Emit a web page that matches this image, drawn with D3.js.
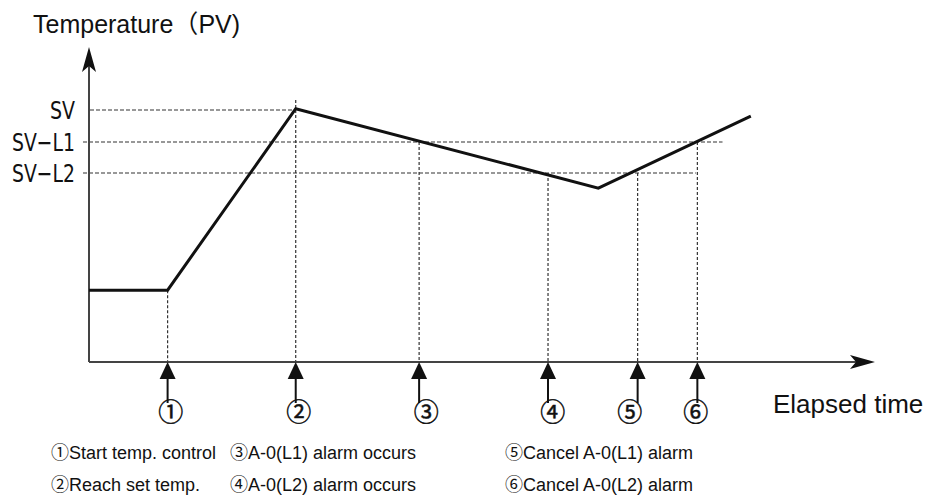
<!DOCTYPE html>
<html lang="en">
<head>
<meta charset="UTF-8" />
<title>Alarm timing chart</title>
<script src="https://d3js.org/d3.v7.min.js"></script>
<style>
  html, body { margin: 0; padding: 0; background: #fff; }
  svg { display: block; }
  .lbl { font-family: "Liberation Sans", Arial, sans-serif; fill: #111; }
  .lvl { font-family: "DejaVu Sans Condensed", "Liberation Sans Narrow", sans-serif; fill: #111; }
  .circ { font-family: "Noto Sans CJK JP", sans-serif; fill: #111; }
</style>
</head>
<body>
<svg width="928" height="497"></svg>
<script>
// threshold levels (temperature units, SV = 100)
const levelNames = ["SV", "SV\u2212L1", "SV\u2212L2"];
const levelValues = [100, 87.3, 75];
// dashed guide ends (time) for each level
const levelEnds = [26.3, 80.6, 77.2];

// PV trace
const pvTime = [0, 10, 26.3, 64.8, 84.2];
const pvTemp = [28.5, 28.5, 100.5, 69, 97.6];

// events
const eventMarks = ["\u2460", "\u2461", "\u2462", "\u2463", "\u2464", "\u2465"];
const eventTime = [10, 26.3, 42, 58.4, 69.8, 77.4];
const eventTemp = [28.5, 104, 87.3, 75, 75, 87.3];
const eventLabelOffset = [0.4, 0.4, 0.9, 0.6, -1, -0.2];

const legendMarks = [["\u2460", "\u2462", "\u2464"], ["\u2461", "\u2463", "\u2465"]];
const legendText = [
  ["Start temp. control", "A-0(L1) alarm occurs", "Cancel A-0(L1) alarm"],
  ["Reach set temp.", "A-0(L2) alarm occurs", "Cancel A-0(L2) alarm"]
];

const svg = d3.select("svg");
const x = d3.scaleLinear().domain([0, 100]).range([89, 875]);
const y = d3.scaleLinear().domain([0, 130]).range([362, 34.4]);

const ink = "#111";
const axisInk = "#444";

// dashed level lines
svg.append("g").selectAll("line")
  .data(levelValues)
  .join("line")
  .attr("x1", (d, i) => i === 0 ? x(0) + 1 : x(0) - 6)
  .attr("x2", (d, i) => x(levelEnds[i]))
  .attr("y1", d => y(d)).attr("y2", d => y(d))
  .attr("stroke", "#333").attr("stroke-width", 1.2)
  .attr("stroke-dasharray", "4,2");

const levelWidth = [25, 63, 63];
svg.append("g").selectAll("text")
  .data(levelNames)
  .join("text")
  .attr("class", "lvl")
  .attr("x", 75)
  .attr("y", (d, i) => y(levelValues[i]) + 9)
  .attr("text-anchor", "end")
  .attr("font-size", 25)
  .attr("textLength", (d, i) => levelWidth[i])
  .attr("lengthAdjust", "spacingAndGlyphs")
  .text(d => d);

// dashed event verticals
svg.append("g").selectAll("line")
  .data(eventTime)
  .join("line")
  .attr("x1", d => x(d)).attr("x2", d => x(d))
  .attr("y1", (d, i) => y(eventTemp[i]))
  .attr("y2", y(0))
  .attr("stroke", "#333").attr("stroke-width", 1.2)
  .attr("stroke-dasharray", "3,2");

// axes
const yTop = y(125);
svg.append("line").attr("x1", x(0)).attr("x2", x(0))
  .attr("y1", yTop + 10).attr("y2", y(0))
  .attr("stroke", axisInk).attr("stroke-width", 2);
svg.append("path")
  .attr("d", `M${x(0)},${yTop} L${x(0) + 7},${yTop + 25} L${x(0)},${yTop + 19} L${x(0) - 7},${yTop + 25} Z`)
  .attr("fill", ink);

svg.append("line").attr("x1", x(0)).attr("x2", x(100) - 10)
  .attr("y1", y(0)).attr("y2", y(0))
  .attr("stroke", axisInk).attr("stroke-width", 2);
svg.append("path")
  .attr("d", `M${x(100)},${y(0)} L${x(100) - 25},${y(0) - 7} L${x(100) - 19},${y(0)} L${x(100) - 25},${y(0) + 7} Z`)
  .attr("fill", ink);

// PV line
const pv = pvTime.map((t, i) => [t, pvTemp[i]]);
svg.append("path")
  .datum(pv)
  .attr("d", d3.line().x(d => x(d[0])).y(d => y(d[1])))
  .attr("fill", "none").attr("stroke", ink).attr("stroke-width", 3)
  .attr("stroke-linejoin", "miter");

// event arrows
const arr = svg.append("g").selectAll("g")
  .data(eventTime)
  .join("g")
  .attr("transform", d => `translate(${x(d)},${y(0)})`);
arr.append("line").attr("x1", 0).attr("x2", 0).attr("y1", 14).attr("y2", 41)
  .attr("stroke", ink).attr("stroke-width", 2);
arr.append("path").attr("d", "M0,0 L8,17 L-8,17 Z").attr("fill", ink);

svg.append("g").selectAll("text")
  .data(eventMarks)
  .join("text")
  .attr("class", "circ")
  .attr("x", (d, i) => x(eventTime[i] + eventLabelOffset[i]))
  .attr("y", 421)
  .attr("text-anchor", "middle")
  .attr("font-size", 25)
  .attr("stroke", ink).attr("stroke-width", 0.5)
  .text(d => d);

// titles
const t1 = svg.append("text").attr("class", "lbl")
  .attr("x", 33).attr("y", 33).attr("font-size", 25);
t1.append("tspan").text("Temperature");
t1.append("tspan").attr("font-family", "Noto Sans CJK JP").text("\uFF08");
t1.append("tspan").text("PV)");

svg.append("text").attr("class", "lbl")
  .attr("x", 773).attr("y", 413).attr("font-size", 26)
  .text("Elapsed time");

// legend
const colX = [51, 230, 505];
const rowY = [459, 491];
legendText.forEach((row, r) => {
  const t = svg.append("g").selectAll("text")
    .data(row)
    .join("text")
    .attr("class", "lbl")
    .attr("x", (d, i) => colX[i])
    .attr("y", rowY[r])
    .attr("font-size", 18);
  t.append("tspan")
    .attr("font-family", "Noto Sans CJK JP")
    .text((d, i) => legendMarks[r][i]);
  t.append("tspan").text(d => d);
});
</script>
</body>
</html>
